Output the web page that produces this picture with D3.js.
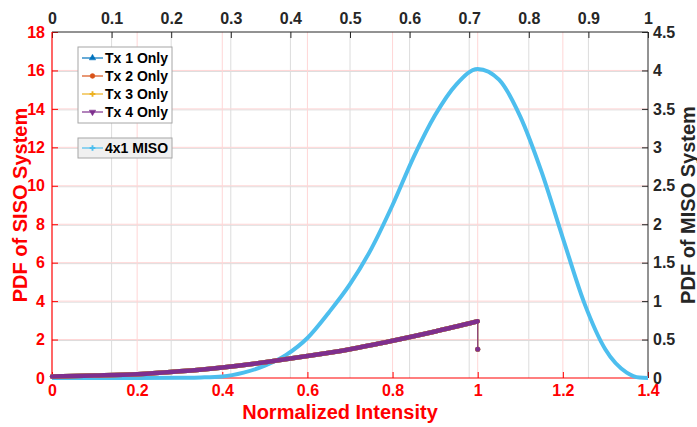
<!DOCTYPE html>
<html>
<head>
<meta charset="utf-8">
<script src="https://cdn.jsdelivr.net/npm/d3@7"></script>
<style>
  body { margin: 0; background: #fff; }
  svg { font-family: "Liberation Sans", Arial, sans-serif; font-weight: bold; }
</style>
</head>
<body>
<svg id="chart" width="697" height="427"></svg>
<script>

// SISO PDF (same for every transmitter), left axis
const sisoX = [0, 0.1, 0.2, 0.3, 0.4, 0.47, 0.5, 0.6, 0.7, 0.8, 0.9, 1.0, 1.0];
const sisoY = [0.08, 0.13, 0.2, 0.35, 0.55, 0.73, 0.82, 1.14, 1.5, 1.94, 2.42, 2.95, 1.5];

// 4x1 MISO PDF, right axis
const misoX = [0, 0.1, 0.2, 0.3, 0.35, 0.4, 0.45, 0.5, 0.55, 0.6, 0.65, 0.7, 0.75, 0.8, 0.85,
  0.9, 0.95, 1.0, 1.05, 1.1, 1.15, 1.2, 1.25, 1.3, 1.35, 1.38, 1.4];
const misoY = [0, 0, 0.001, 0.004, 0.008, 0.02, 0.07, 0.16, 0.3, 0.52, 0.85, 1.22, 1.68, 2.25, 2.88,
  3.42, 3.82, 4.02, 3.88, 3.4, 2.68, 1.82, 0.98, 0.37, 0.07, 0.005, 0];

const sisoSeries = [
  { label: "Tx 1 Only", color: "#0072BD", symbol: d3.symbolTriangle, rot: 0 },
  { label: "Tx 2 Only", color: "#D95319", symbol: d3.symbolCircle, rot: 0 },
  { label: "Tx 3 Only", color: "#EDB120", symbol: d3.symbolCross, rot: 0 },
  { label: "Tx 4 Only", color: "#7E2F8E", symbol: d3.symbolTriangle, rot: 180 }
];
const misoSeries = { label: "4x1 MISO", color: "#4DBEEE", symbol: d3.symbolCross };

const bottomTicks = [0, 0.2, 0.4, 0.6, 0.8, 1, 1.2, 1.4];
const topTicks = [0, 0.1, 0.2, 0.3, 0.4, 0.5, 0.6, 0.7, 0.8, 0.9, 1];
const leftTicks = [0, 2, 4, 6, 8, 10, 12, 14, 16, 18];
const rightTicks = [0, 0.5, 1, 1.5, 2, 2.5, 3, 3.5, 4, 4.5];

const margin = { top: 32, right: 49, bottom: 49, left: 52 };
const width = 697;
const height = 427;
const innerWidth = width - margin.left - margin.right;
const innerHeight = height - margin.top - margin.bottom;

const red = "#ff0000";
const dark = "#262626";

const xScale = d3.scaleLinear().domain([0, 1.4]).range([0, innerWidth]);
const xTopScale = d3.scaleLinear().domain([0, 1]).range([0, innerWidth]);
const yScale = d3.scaleLinear().domain([0, 18]).range([innerHeight, 0]);
const yRightScale = d3.scaleLinear().domain([0, 4.5]).range([innerHeight, 0]);

const svg = d3.select("#chart");
const innerChart = svg.append("g")
  .attr("transform", `translate(${margin.left},${margin.top})`);

// Grids (gray from top/right axes, pink from bottom/left axes)
const grid = innerChart.append("g");
grid.selectAll(".vgray")
  .data(topTicks.slice(1, -1))
  .join("line")
    .attr("x1", d => xTopScale(d)).attr("x2", d => xTopScale(d))
    .attr("y1", 0).attr("y2", innerHeight)
    .attr("stroke", "#dcdcdc");
grid.selectAll(".hgray")
  .data(rightTicks.slice(1, -1))
  .join("line")
    .attr("x1", 0).attr("x2", innerWidth)
    .attr("y1", d => yRightScale(d) + 1).attr("y2", d => yRightScale(d) + 1)
    .attr("stroke", "#dcdcdc");
grid.selectAll(".vred")
  .data(bottomTicks.slice(1, -1))
  .join("line")
    .attr("x1", d => xScale(d)).attr("x2", d => xScale(d))
    .attr("y1", 0).attr("y2", innerHeight)
    .attr("stroke", "#ffd6d6");
grid.selectAll(".hred")
  .data(leftTicks.slice(1, -1))
  .join("line")
    .attr("x1", 0).attr("x2", innerWidth)
    .attr("y1", d => yScale(d)).attr("y2", d => yScale(d))
    .attr("stroke", "#ffd6d6");

// Axes
const styleAxis = (g, color) => {
  g.select(".domain").remove();
  g.selectAll(".tick line").attr("stroke", color);
  g.selectAll(".tick text")
    .attr("fill", color)
    .style("font-size", "16px")
    .style("font-weight", "bold")
    .style("font-family", "'Liberation Sans', Arial, sans-serif");
};

const fmt = d => d3.format("~g")(d);

innerChart.append("g")
  .attr("transform", `translate(0,${innerHeight})`)
  .call(d3.axisBottom(xScale).tickValues(bottomTicks).tickFormat(fmt).tickSizeInner(-6).tickSizeOuter(0).tickPadding(7))
  .call(g => styleAxis(g, red));

innerChart.append("g")
  .call(d3.axisTop(xTopScale).tickValues(topTicks).tickFormat(fmt).tickSizeInner(-6).tickSizeOuter(0).tickPadding(8))
  .call(g => styleAxis(g, dark));

innerChart.append("g")
  .call(d3.axisLeft(yScale).tickValues(leftTicks).tickFormat(fmt).tickSizeInner(-6).tickSizeOuter(0).tickPadding(7))
  .call(g => styleAxis(g, red));

innerChart.append("g")
  .attr("transform", `translate(${innerWidth},0)`)
  .call(d3.axisRight(yRightScale).tickValues(rightTicks).tickFormat(fmt).tickSizeInner(-6).tickSizeOuter(0).tickPadding(5))
  .call(g => styleAxis(g, dark));

// Box lines
innerChart.append("line")
  .attr("x1", 0).attr("x2", innerWidth).attr("y1", 0).attr("y2", 0)
  .attr("stroke", dark);
innerChart.append("line")
  .attr("x1", innerWidth).attr("x2", innerWidth).attr("y1", 0).attr("y2", innerHeight)
  .attr("stroke", dark);
innerChart.append("line")
  .attr("x1", 0).attr("x2", 0).attr("y1", 0).attr("y2", innerHeight)
  .attr("stroke", red).attr("stroke-width", 1.2);
innerChart.append("line")
  .attr("x1", 0).attr("x2", innerWidth).attr("y1", innerHeight).attr("y2", innerHeight)
  .attr("stroke", red).attr("stroke-width", 1.2);

// MISO curve
const misoData = misoX.map((x, i) => ({ x, y: misoY[i] }));
const misoLine = d3.line()
  .x(d => xScale(d.x))
  .y(d => yRightScale(d.y))
  .curve(d3.curveMonotoneX);

innerChart.append("path")
  .datum(misoData)
  .attr("d", misoLine)
  .attr("fill", "none")
  .attr("stroke", misoSeries.color)
  .attr("stroke-width", 4)
  .attr("stroke-linejoin", "round");

// SISO curves (all four overlap, Tx 4 on top)
const sisoData = sisoX.map((x, i) => ({ x, y: sisoY[i] }));
const sisoLine = d3.line()
  .x(d => xScale(d.x))
  .y(d => yScale(d.y))
  .curve(d3.curveMonotoneX);

sisoSeries.forEach(s => {
  innerChart.append("path")
    .datum(sisoData.slice(0, -1))
    .attr("d", sisoLine)
    .attr("fill", "none")
    .attr("stroke", s.color)
    .attr("stroke-width", 4.5)
    .attr("stroke-linecap", "round");
  innerChart.append("line")
    .attr("x1", xScale(sisoX[sisoX.length - 2])).attr("x2", xScale(sisoX[sisoX.length - 1]))
    .attr("y1", yScale(sisoY[sisoY.length - 2])).attr("y2", yScale(sisoY[sisoY.length - 1]))
    .attr("stroke", s.color)
    .attr("stroke-width", 1);
  innerChart.append("circle")
    .attr("cx", xScale(sisoX[sisoX.length - 1]))
    .attr("cy", yScale(sisoY[sisoY.length - 1]))
    .attr("r", 2.5)
    .attr("fill", s.color);
});

// Axis titles
svg.append("text")
  .attr("x", 340)
  .attr("y", 419)
  .attr("text-anchor", "middle")
  .attr("fill", red)
  .style("font-size", "20px")
  .text("Normalized Intensity");

svg.append("text")
  .attr("transform", `translate(27,${margin.top + innerHeight / 2}) rotate(-90)`)
  .attr("text-anchor", "middle")
  .attr("fill", red)
  .style("font-size", "20px")
  .text("PDF of SISO System");

svg.append("text")
  .attr("transform", `translate(695,${margin.top + innerHeight / 2}) rotate(-90)`)
  .attr("text-anchor", "middle")
  .attr("fill", dark)
  .style("font-size", "20px")
  .text("PDF of MISO System");

// Legends
const drawLegend = (items, x, y, w, rowH, bg) => {
  const g = svg.append("g").attr("transform", `translate(${x},${y})`);
  g.append("rect")
    .attr("width", w)
    .attr("height", rowH * items.length + 4)
    .attr("fill", bg)
    .attr("stroke", "#a6a6a6");
  const rows = g.selectAll(".row")
    .data(items)
    .join("g")
      .attr("transform", (d, i) => `translate(0,${2 + rowH * i + rowH / 2})`);
  rows.append("line")
    .attr("x1", 4).attr("x2", 25)
    .attr("stroke", d => d.color)
    .attr("stroke-width", 1.2);
  rows.append("path")
    .attr("d", d => d3.symbol(d.symbol, 18)())
    .attr("transform", d => `translate(14.5,0) rotate(${d.rot || 0})`)
    .attr("fill", d => d.color)
    .attr("stroke", d => d.symbol === d3.symbolCross ? "none" : d.color)
    .attr("stroke-width", 0.5);
  rows.append("text")
    .attr("x", 27)
    .attr("dy", "0.36em")
    .attr("fill", "#000")
    .style("font-size", "14px")
    .text(d => d.label);
};

drawLegend(sisoSeries, 78, 47, 94, 18, "#ffffff");
drawLegend([misoSeries], 78, 138, 94, 16, "#f0f0f0");

</script>
</body>
</html>
